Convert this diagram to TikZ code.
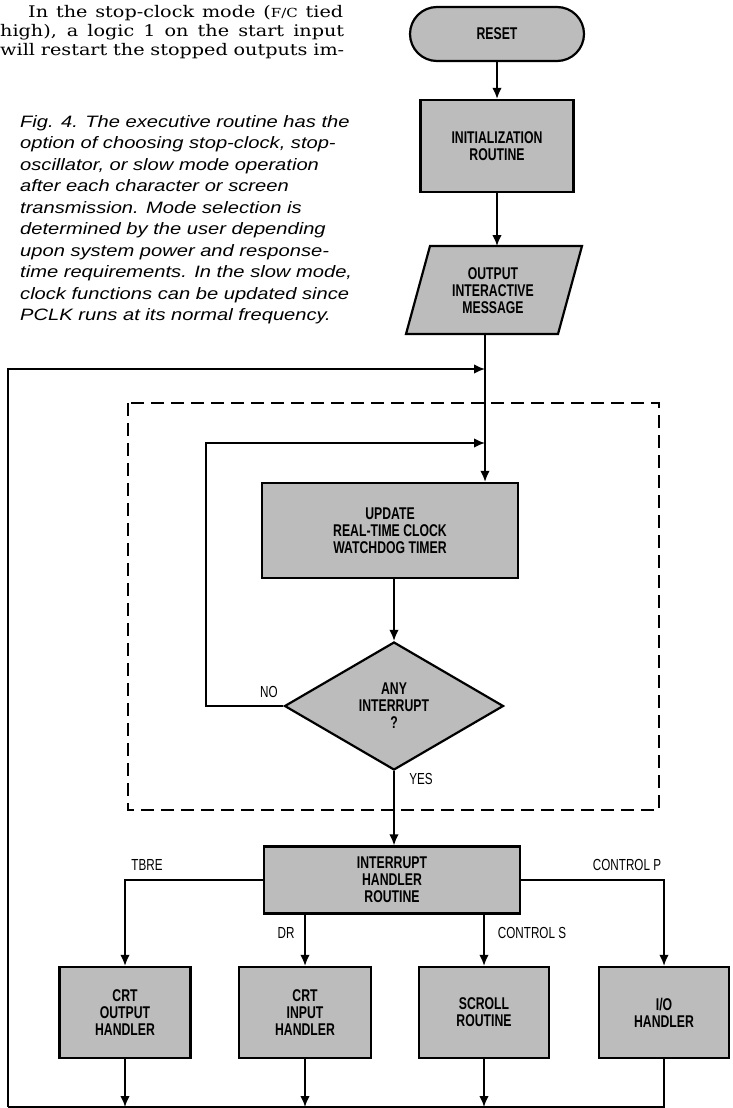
\documentclass[tikz,border=0pt]{standalone}
\usepackage{fontspec}
\newfontfamily\parafont[FakeStretch=1.2]{DejaVu Serif}
\newfontfamily\capfont[FakeStretch=1.22]{Liberation Sans}
\newfontfamily\boxfont[FakeStretch=0.72]{Liberation Sans}
\newfontfamily\lblfont[FakeStretch=0.73]{Liberation Sans}
\usetikzlibrary{arrows.meta,shapes.geometric,shapes.misc}
\definecolor{boxgray}{RGB}{188,188,188}
\tikzset{
 box/.style={draw,line width=2.2pt,fill=boxgray,inner sep=0pt,align=center,font=\boxfont\bfseries\fontsize{17}{17}\selectfont},
 boxtext/.style={inner sep=0pt,align=center,font=\boxfont\bfseries\fontsize{17}{17}\selectfont},
 conn/.style={line width=1.8pt,-{Latex[length=11pt,width=9.5pt]}},
 wire/.style={line width=1.8pt},
 lbl/.style={inner sep=0pt,font=\lblfont\fontsize{16}{16}\selectfont},
 paratxt/.style={inner sep=0pt,anchor=base west,font=\parafont\fontsize{16}{19}\selectfont},
 captxt/.style={inner sep=0pt,anchor=base west,font=\capfont\itshape\fontsize{16.5}{21.5}\selectfont},
 dashbox/.style={line width=1.4pt,dash pattern=on 13pt off 7pt}
}
\begin{document}
\begin{tikzpicture}[x=1pt,y=-1pt]
\useasboundingbox (0,0) rectangle (732,1108);
% paragraph text
\node[paratxt] (p1) at (28,18) {\makebox[315pt][s]{In the stop-clock mode ({\fontsize{12.5}{12}\selectfont F/C} tied}};
\node[paratxt] (p2) at (0,37) {\makebox[344pt][s]{high), a logic 1 on the start input}};
\node[paratxt] (p3) at (0,56) {\makebox[344pt][s]{will restart the stopped outputs im-}};
% caption
\node[captxt] (c1) at (20,127) {Fig. 4. The executive routine has the};
\node[captxt] (c2) at (20,148.5) {option of choosing stop-clock, stop-};
\node[captxt] (c3) at (20,170) {oscillator, or slow mode operation};
\node[captxt] (c4) at (20,191.5) {after each character or screen};
\node[captxt] (c5) at (20,213) {transmission. Mode selection is};
\node[captxt] (c6) at (20,234.5) {determined by the user depending};
\node[captxt] (c7) at (20,256) {upon system power and response-};
\node[captxt] (c8) at (20,277.5) {time requirements. In the slow mode,};
\node[captxt] (c9) at (20,299) {clock functions can be updated since};
\node[captxt] (c10) at (20,320.5) {PCLK runs at its normal frequency.};
% dashed region
\draw[dashbox] (128,403) rectangle (659,810);
% nodes
\node[box,rounded rectangle,minimum width=174pt,minimum height=54pt] (reset) at (497,34) {RESET};
\node[box,minimum width=153pt,minimum height=92pt] (init) at (497,146) {INITIALIZATION\\ROUTINE};
\draw[line width=2.2pt,fill=boxgray] (430,246) -- (582,246) -- (558,334) -- (406,334) -- cycle;
\node[boxtext] (msg) at (493,291) {OUTPUT\\INTERACTIVE\\MESSAGE};
\coordinate (msgtop) at (497,246);
\coordinate (msgbot) at (485,334);
\node[box,minimum width=256pt,minimum height=95pt] (update) at (390,530.5) {UPDATE\\REAL-TIME CLOCK\\WATCHDOG TIMER};
\node[box,diamond,minimum width=219pt,minimum height=128pt] (dia) at (394,706) {ANY\\INTERRUPT\\?};
\node[box,minimum width=256pt,minimum height=67pt] (int) at (392,880) {INTERRUPT\\HANDLER\\ROUTINE};
\node[box,minimum width=131pt,minimum height=91pt] (crt1) at (125,1012.5) {CRT\\OUTPUT\\HANDLER};
\node[box,minimum width=132pt,minimum height=91pt] (crt2) at (305,1012.5) {CRT\\INPUT\\HANDLER};
\node[box,minimum width=130pt,minimum height=91pt] (scroll) at (484,1012.5) {SCROLL\\ROUTINE};
\node[box,minimum width=130pt,minimum height=91pt] (io) at (664,1012.5) {I/O\\HANDLER};
% coordinates
\coordinate (j1) at (485,369);
\coordinate (j2) at (485,443);
\coordinate (nl) at (206,706);
\coordinate (bot) at (0,1107);
\coordinate (bl) at (8,1107);
% connectors
\draw[conn] (reset.south) -- (init.north);
\draw[conn] (init.south) -- (msgtop);
\draw[conn] (msgbot) -- (msgbot |- update.north);
\draw[conn] (bl) |- (j1);
\draw[conn] (dia.west) -- (nl) |- (j2);
\draw[conn] (dia.north |- update.south) -- (dia.north);
\draw[conn] (dia.south) -- (dia.south |- int.north);
\draw[conn] (int.west) -| (crt1.north);
\draw[conn] (crt2.north |- int.south) -- (crt2.north);
\draw[conn] (scroll.north |- int.south) -- (scroll.north);
\draw[conn] (int.east) -| (io.north);
\draw[conn] (crt1.south) -- (crt1.south |- bot);
\draw[conn] (crt2.south) -- (crt2.south |- bot);
\draw[conn] (scroll.south) -- (scroll.south |- bot);
\draw[wire] (io.south) |- (bl);
% labels
\node[lbl] (lno) at (269,692) {NO};
\node[lbl] (lyes) at (421,779) {YES};
\node[lbl] (ltbre) at (147,865) {TBRE};
\node[lbl] (lcp) at (627,865) {CONTROL P};
\node[lbl] (ldr) at (286,933) {DR};
\node[lbl] (lcs) at (532,933) {CONTROL S};
\end{tikzpicture}
\end{document}
